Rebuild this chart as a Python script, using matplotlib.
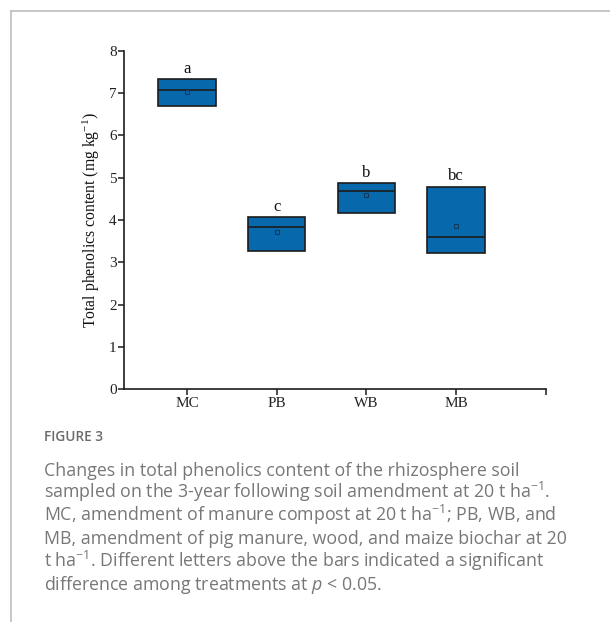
import matplotlib
matplotlib.use("Agg")
import matplotlib.pyplot as plt
from matplotlib.lines import Line2D

plt.rcParams['mathtext.fontset'] = 'custom'
plt.rcParams['mathtext.rm'] = 'Open Sans'
plt.rcParams['mathtext.it'] = 'Open Sans:italic'

categories = ["MC", "PB", "WB", "MB"]
q1_vals = [6.70, 3.26, 4.17, 3.21]
q3_vals = [7.34, 4.06, 4.87, 4.79]
medians = [7.08, 3.84, 4.69, 3.60]
means = [7.03, 3.72, 4.58, 3.87]
letters = ["a", "c", "b", "bc"]
yticks = [0, 1, 2, 3, 4, 5, 6, 7, 8]

caption_title = "FIGURE 3"
caption_lines = [
    "Changes in total phenolics content of the rhizosphere soil",
    "sampled on the 3-year following soil amendment at 20 t ha$\\mathregular{^{-1}}$.",
    "MC, amendment of manure compost at 20 t ha$\\mathregular{^{-1}}$; PB, WB, and",
    "MB, amendment of pig manure, wood, and maize biochar at 20",
    "t ha$\\mathregular{^{-1}}$. Different letters above the bars indicated a significant",
    "difference among treatments at $\\mathit{p}$ < 0.05.",
]

W, H = 610, 622
fig = plt.figure(figsize=(W / 100, H / 100), dpi=100)
fig.patch.set_facecolor("white")

# card border
fig.add_artist(Line2D([11 / W, 11 / W], [1 - 10.5 / H, 0], transform=fig.transFigure,
                      color="#bdbdbd", lw=1.2))
fig.add_artist(Line2D([11 / W, 1], [1 - 10.5 / H, 1 - 10.5 / H], transform=fig.transFigure,
                      color="#bdbdbd", lw=1.2))

ax = fig.add_axes([124.3 / W, 1 - 389.3 / H, (545.7 - 124.3) / W, (389.3 - 50.7) / H])

serif = "Liberation Serif"
positions = list(range(1, len(categories) + 1))
stats = []
for c, lo, hi, md, mn in zip(categories, q1_vals, q3_vals, medians, means):
    stats.append(dict(label=c, q1=lo, q3=hi, med=md, mean=mn, whislo=lo, whishi=hi, fliers=[]))

ax.bxp(stats, positions=positions, widths=0.64, patch_artist=True, showmeans=True,
       showcaps=False, showfliers=False,
       boxprops=dict(facecolor="#0868ac", edgecolor="#1c1c1c", linewidth=1.2),
       medianprops=dict(color="#1c1c1c", linewidth=1.2),
       whiskerprops=dict(linewidth=0),
       meanprops=dict(marker="s", markersize=3.5, markerfacecolor="none",
                      markeredgecolor="#123a5c", markeredgewidth=0.8))

for p, hi, lt in zip(positions, q3_vals, letters):
    ax.text(p, hi + 0.05, lt, ha="center", va="bottom", fontsize=12, family=serif,
            color="#111111")

ax.set_xlim(0.3, 5.0)
ax.set_ylim(0, 8)
ax.set_yticks(yticks)
ax.set_yticklabels([str(v) for v in yticks], family=serif, fontsize=11)
ax.set_xticks(positions + [5.0])
ax.set_xticklabels(categories + [""], family=serif, fontsize=11)
for s in ["top", "right"]:
    ax.spines[s].set_visible(False)
for s in ["left", "bottom"]:
    ax.spines[s].set_linewidth(1.2)
    ax.spines[s].set_color("#1c1c1c")
ax.tick_params(axis="both", direction="out", length=4, width=1.1, color="#1c1c1c",
               labelcolor="#222222", pad=1.5)
ax.set_ylabel("Total phenolics content (mg kg$\\mathregular{^{-1}}$)", family=serif,
              fontsize=11.3, labelpad=5, color="#111111")

# caption
fig.text(44 / W, 1 - 441 / H, caption_title, family="Open Sans", fontsize=9.8,
         color="#6a6a6a", va="baseline", ha="left", weight="semibold")
base = 475.5
for i, line in enumerate(caption_lines):
    fig.text(44 / W, 1 - (base + i * 22.8) / H, line, family="Open Sans", fontsize=12.8,
             color="#777777", va="baseline", ha="left")

fig.savefig("out.png", dpi=100, facecolor="white")
